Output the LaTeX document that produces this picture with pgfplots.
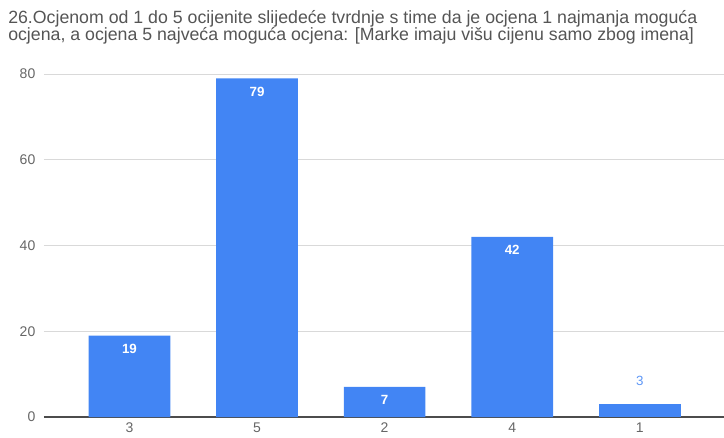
\documentclass[border=0pt]{standalone}
\usepackage{fontspec}
\setmainfont{Liberation Sans}
\usepackage{pgfplots}
\pgfplotsset{compat=1.18}
\definecolor{barblue}{HTML}{4285F4}
\definecolor{gridgray}{HTML}{D9D9D9}
\definecolor{ticktext}{HTML}{666666}
\definecolor{titletext}{HTML}{555555}
\begin{document}
\begin{tikzpicture}
\begin{axis}[
    at={(0,0)}, anchor=south west,
    scale only axis,
    width=510pt, height=257.25pt,
    xmin=-0.67, xmax=4.66,
    ymin=0, ymax=80,
    ytick={20,40,60,80},
    extra y ticks={0},
    extra y tick style={grid style={draw=black!70, line width=0.8pt}},
    xtick={0,1,2,3,4},
    xticklabels={3,5,2,4,1},
    major tick length=0pt,
    ymajorgrids=true,
    grid style={draw=gridgray, line width=0.6pt},
    axis line style={draw=none},
    ticklabel style={font=\fontsize{10.5}{12}\selectfont, text=ticktext},
    yticklabel style={xshift=-3pt},
    xticklabel style={yshift=-1pt},
    /pgf/number format/assume math mode=true,
    ybar, bar shift=0pt, bar width=0.64,
    clip=false,
]
\addplot[fill=barblue, draw=none,
    nodes near coords,
    every node near coord/.append style={anchor=north, yshift=-3pt, text=white, font=\fontsize{10}{12}\selectfont\bfseries}]
    coordinates {(0,19) (1,79) (2,7) (3,42)};
\addplot[fill=barblue, draw=none,
    nodes near coords,
    every node near coord/.append style={anchor=south, yshift=10pt, text=barblue!85!white, font=\fontsize{10}{12}\selectfont}]
    coordinates {(4,3)};
\end{axis}
\node[anchor=north west, align=left, inner sep=0pt, text=titletext,
      font=\fontsize{13.3}{12.9}\selectfont] at (-27pt,305pt)
  {26.Ocjenom od 1 do 5 ocijenite slijedeće tvrdnje s time da je ocjena 1 najmanja moguća\\
   ocjena, a ocjena 5 najveća moguća ocjena: [Marke imaju višu cijenu samo zbog imena]};
\pgfresetboundingbox
\path (-33pt,-15pt) rectangle (510pt,312.75pt);
\end{tikzpicture}
\end{document}
